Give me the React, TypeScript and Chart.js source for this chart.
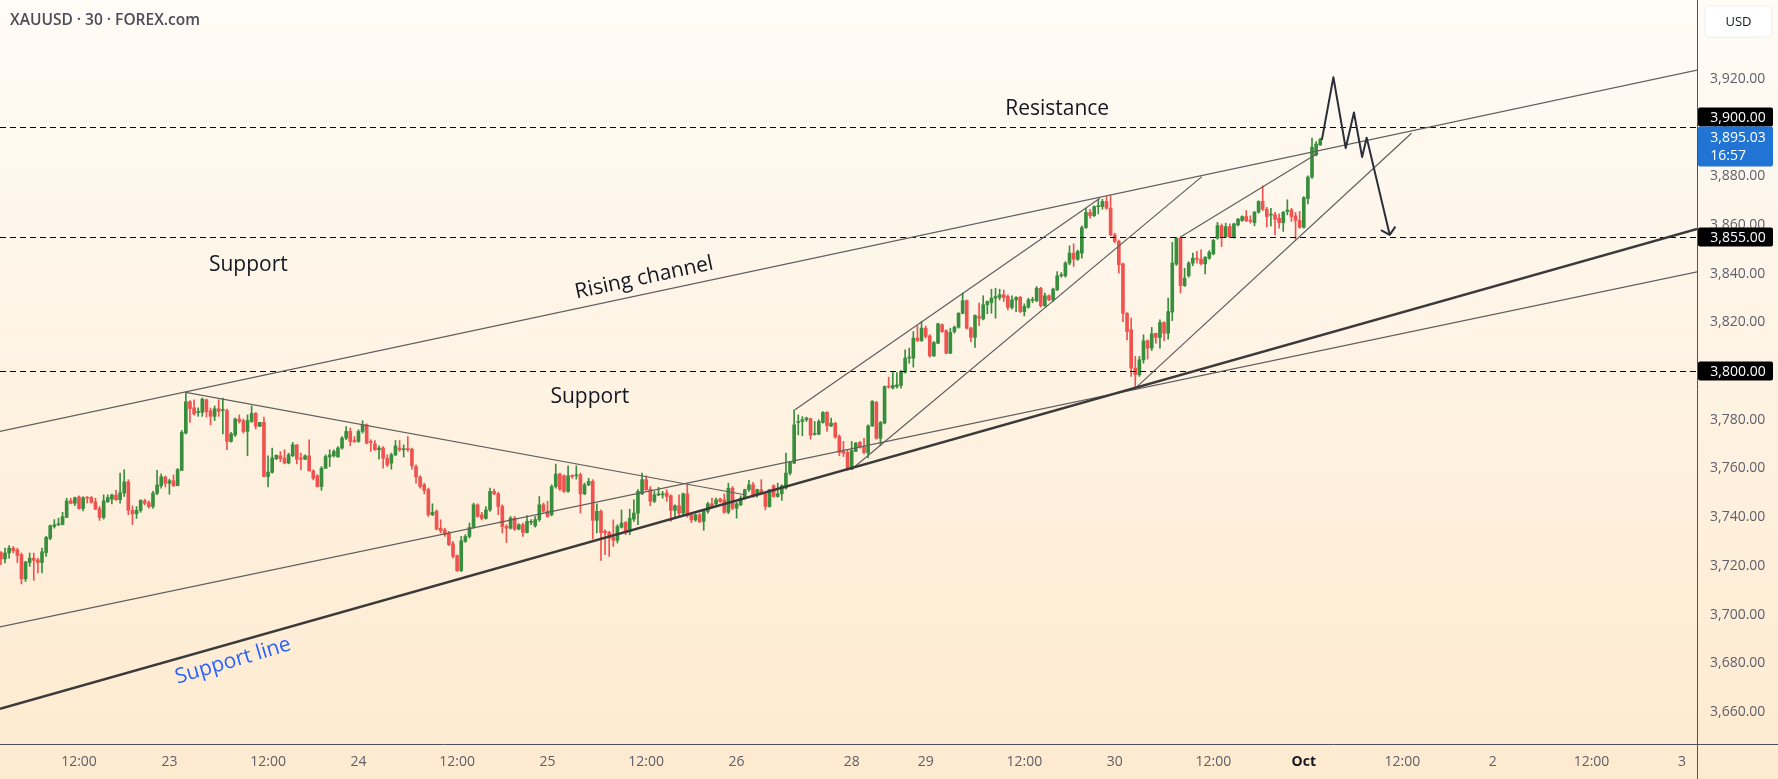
import React, { useEffect, useRef } from 'react';
import { Chart, registerables } from 'chart.js';

Chart.register(...registerables);

// bar index of the first candle (index 0 = Sep 22, 12:00, 30-minute bars)
const FIRST_BAR = -19;

const openP: number[] = [
  3725.5, 3722.9, 3725.3, 3727.3, 3726.6, 3724.6, 3714.7, 3721.4, 3723.2, 3722.5,
  3721.4, 3725.5, 3731.3, 3736.2, 3736.9, 3737.0, 3739.9, 3746.7, 3745.7, 3748.3,
  3743.6, 3748.1, 3748.1, 3746.3, 3743.5, 3739.9, 3746.3, 3747.4, 3749.1, 3747.2,
  3749.9, 3754.5, 3742.8, 3741.4, 3742.8, 3746.7, 3745.9, 3744.4, 3749.8, 3752.9,
  3756.5, 3753.9, 3755.0, 3752.9, 3759.2, 3774.5, 3787.4, 3784.9, 3783.0, 3783.0,
  3788.2, 3783.7, 3781.4, 3784.5, 3783.8, 3783.8, 3771.1, 3773.8, 3780.3, 3779.6,
  3775.2, 3779.3, 3782.6, 3777.3, 3778.9, 3756.7, 3758.4, 3764.0, 3765.2, 3764.3,
  3762.2, 3765.2, 3769.7,
  3764.3, 3763.8, 3765.2, 3759.0, 3757.0, 3752.6, 3760.1,
  3764.7, 3765.2, 3764.7, 3768.4, 3772.5, 3775.2, 3771.5, 3771.1, 3775.2, 3777.9,
  3771.1, 3770.1, 3767.7, 3768.4, 3764.2, 3762.2, 3765.6, 3768.4, 3767.7, 3768.2,
  3767.9, 3760.8, 3756.5, 3753.3, 3751.3, 3741.0, 3742.4, 3735.5, 3734.8, 3733.5,
  3729.1, 3724.2, 3718.0, 3730.1, 3732.1, 3735.9, 3745.1, 3741.0, 3739.5, 3743.0,
  3750.6, 3749.6, 3744.4, 3736.2, 3735.5, 3739.6, 3735.1, 3736.9, 3733.7, 3737.9,
  3736.5, 3739.0, 3745.1, 3742.5, 3741.0, 3752.6, 3757.7, 3757.0, 3750.6, 3757.0, 3757.0,
  3757.4, 3749.6, 3753.3, 3754.7, 3738.7, 3742.4, 3734.2, 3733.7, 3731.8,
  3730.5, 3735.9, 3737.8, 3734.2, 3739.2, 3741.7, 3749.6, 3755.4, 3751.5, 3746.5,
  3749.1, 3749.2, 3749.9, 3748.8, 3742.8, 3744.7, 3741.7, 3749.6, 3741.0, 3738.9,
  3741.0, 3738.3, 3742.4, 3745.5, 3745.5, 3747.4, 3747.1, 3742.0, 3751.9, 3743.7,
  3745.1, 3747.8, 3751.3, 3753.3, 3749.2, 3751.3, 3749.6, 3744.4, 3752.9, 3748.5,
  3749.6, 3752.0, 3758.1,
  3762.2, 3778.9, 3779.3, 3780.0, 3780.4, 3774.0, 3774.1,
  3778.9, 3783.0, 3777.5, 3778.6, 3773.1, 3767.0, 3766.6, 3759.7, 3767.0, 3770.7,
  3768.8, 3766.3, 3777.5, 3787.2, 3772.4, 3778.6, 3793.6, 3793.0, 3793.6, 3794.1,
  3799.5, 3805.3, 3805.3, 3813.5, 3812.5, 3817.6, 3814.4, 3806.2, 3811.4, 3819.0,
  3816.6, 3807.3, 3816.2, 3818.0, 3823.7, 3828.9,
  3817.6, 3813.8, 3822.4, 3821.4,
  3827.2, 3828.1, 3829.9, 3830.2, 3831.3, 3830.6, 3826.1, 3829.2, 3830.3, 3824.4,
  3826.2, 3829.0, 3828.8, 3833.9, 3826.8, 3830.9, 3829.2, 3833.3, 3839.1, 3839.1,
  3844.3, 3848.4, 3845.9, 3848.4, 3858.9, 3865.1, 3863.8, 3867.5, 3867.5,
  3869.6,
  3866.8, 3855.9, 3853.2, 3844.0, 3823.7, 3816.9, 3801.2, 3798.5, 3804.6, 3812.4,
  3809.4, 3815.5, 3813.8, 3819.9, 3815.5, 3824.2, 3843.9, 3854.5, 3835.1, 3839.1,
  3844.3, 3846.3, 3845.9, 3844.0, 3846.3, 3848.1, 3854.5, 3859.6, 3855.2, 3859.3,
  3854.9, 3860.0, 3861.8, 3863.4, 3861.8, 3860.9, 3865.2, 3869.6, 3866.4, 3864.0,
  3864.2, 3862.7, 3860.9, 3865.5, 3866.1, 3863.7, 3861.8, 3859.0, 3870.8, 3879.6,
  3888.7, 3892.8,
];

const highP: number[] = [
  3725.9, 3727.3, 3728.3, 3728.0, 3727.3, 3725.3, 3721.9, 3725.3, 3725.3, 3723.2,
  3727.3, 3732.1, 3736.8, 3739.0, 3739.6, 3742.0, 3747.8, 3747.8, 3748.3, 3748.8,
  3748.5, 3748.5, 3748.5, 3747.8, 3744.4, 3749.2, 3749.2, 3749.5, 3751.0, 3758.1,
  3759.5, 3755.4, 3744.7, 3744.4, 3747.2, 3747.4, 3746.7, 3750.6, 3759.2, 3757.8,
  3756.9, 3755.6, 3757.4, 3760.0, 3775.6, 3791.2, 3787.9, 3788.2, 3784.9, 3788.9,
  3788.5, 3784.8, 3785.7, 3788.2, 3788.9, 3784.4, 3774.8, 3780.7, 3782.0, 3780.3,
  3782.0, 3785.7, 3783.0, 3778.9, 3781.1, 3765.2, 3768.4, 3765.6, 3766.9, 3767.7,
  3766.3, 3770.7, 3769.7,
  3766.3, 3765.6, 3771.8, 3759.5, 3757.4, 3760.8, 3765.6,
  3767.7, 3767.7, 3769.0, 3773.1, 3777.2, 3776.6, 3773.1, 3775.9, 3779.6, 3778.3,
  3771.8, 3771.5, 3769.3, 3769.0, 3765.6, 3766.3, 3771.5, 3771.5, 3769.7, 3773.1,
  3768.4, 3761.5, 3757.0, 3754.0, 3751.9, 3745.5, 3743.0, 3738.9, 3735.5, 3734.2,
  3730.1, 3724.6, 3732.1, 3732.8, 3737.6, 3745.8, 3745.5, 3742.0, 3744.4, 3751.9,
  3751.5, 3750.2, 3745.1, 3736.9, 3740.3, 3740.3, 3737.3, 3737.6, 3740.7, 3739.0,
  3740.3, 3748.5, 3745.8, 3746.5, 3753.3, 3761.8, 3758.1, 3757.4, 3761.1, 3757.4, 3761.1,
  3758.1, 3754.0, 3756.0, 3755.4, 3745.5, 3743.0, 3734.8, 3734.2, 3738.9,
  3736.9, 3743.0, 3738.3, 3743.3, 3747.1, 3751.3, 3758.1, 3757.0, 3752.6, 3750.6,
  3752.3, 3750.6, 3751.3, 3749.2, 3745.1, 3749.2, 3749.9, 3753.3, 3741.7, 3741.4,
  3741.7, 3743.0, 3746.1, 3747.8, 3747.8, 3747.8, 3749.6, 3754.0, 3752.6, 3746.1,
  3748.8, 3751.5, 3755.1, 3754.3, 3751.5, 3755.4, 3749.9, 3751.5, 3753.3, 3754.0,
  3753.3, 3766.3, 3762.9,
  3784.1, 3782.0, 3781.3, 3781.1, 3780.7, 3779.3, 3780.0,
  3783.4, 3783.4, 3780.7, 3778.9, 3773.8, 3771.1, 3767.7, 3771.1, 3770.7, 3771.1,
  3772.4, 3777.9, 3787.9, 3787.5, 3779.3, 3793.9, 3797.5, 3799.4, 3799.4, 3800.2,
  3808.7, 3809.4, 3816.2, 3818.5, 3820.3, 3818.5, 3814.9, 3812.1, 3819.6, 3819.4,
  3816.9, 3817.6, 3818.5, 3824.0, 3832.0, 3829.2,
  3818.0, 3823.1, 3827.9, 3830.9,
  3828.8, 3833.6, 3834.0, 3833.6, 3833.3, 3831.3, 3830.9, 3830.6, 3830.6, 3827.6,
  3829.9, 3830.3, 3834.7, 3834.4, 3832.0, 3831.3, 3834.0, 3840.8, 3840.4, 3844.9,
  3851.4, 3852.2, 3849.7, 3859.6, 3866.8, 3866.4, 3867.8, 3870.5, 3870.5,
  3871.6,
  3871.9, 3856.6, 3853.8, 3844.3, 3824.0, 3821.7, 3806.0, 3806.0, 3814.9, 3812.8,
  3817.9, 3815.5, 3821.0, 3820.3, 3829.9, 3852.8, 3854.9, 3854.9, 3842.2, 3844.9,
  3848.4, 3849.1, 3849.7, 3847.0, 3849.5, 3854.1, 3861.0, 3860.4, 3860.7, 3860.4,
  3860.7, 3862.7, 3863.7, 3865.9, 3863.7, 3865.5, 3869.9, 3876.0, 3867.2, 3866.8,
  3865.1, 3864.5, 3865.5, 3870.3, 3866.8, 3865.1, 3865.5, 3871.6, 3880.1, 3895.6,
  3894.2, 3895.6,
];

const lowP: number[] = [
  3720.5, 3721.2, 3723.2, 3725.3, 3721.4, 3712.6, 3713.6, 3719.8, 3714.1, 3717.1,
  3717.1, 3723.9, 3730.7, 3735.5, 3736.5, 3736.8, 3739.9, 3745.5, 3744.7, 3743.3,
  3742.6, 3745.8, 3745.8, 3743.1, 3738.7, 3739.2, 3746.1, 3745.4, 3746.9, 3745.8,
  3748.5, 3741.0, 3737.0, 3739.5, 3742.0, 3745.1, 3743.7, 3743.6, 3749.2, 3751.9,
  3752.4, 3749.4, 3752.6, 3752.9, 3759.2, 3774.2, 3778.9, 3781.9, 3781.4, 3781.4,
  3781.1, 3777.9, 3779.7, 3781.4, 3774.2, 3767.7, 3770.8, 3773.1, 3778.6, 3774.5,
  3765.2, 3778.9, 3776.2, 3777.3, 3756.5, 3752.4, 3758.1, 3763.6, 3762.8, 3761.9,
  3761.9, 3764.9, 3761.9,
  3759.5, 3763.6, 3759.0, 3755.3, 3752.3, 3751.0, 3760.0,
  3760.8, 3764.7, 3764.7, 3767.9, 3771.8, 3769.3, 3770.7, 3770.7, 3774.5, 3770.1,
  3767.0, 3767.4, 3763.8, 3760.1, 3760.8, 3759.7, 3765.2, 3767.0, 3764.7, 3767.0,
  3759.7, 3754.0, 3751.9, 3749.6, 3740.3, 3740.6, 3734.8, 3733.5, 3732.1, 3728.3,
  3723.2, 3717.7, 3717.7, 3729.6, 3731.4, 3735.5, 3740.0, 3738.9, 3739.2, 3742.4,
  3749.2, 3741.0, 3733.5, 3729.6, 3735.1, 3734.6, 3734.8, 3732.1, 3733.5, 3736.9,
  3735.9, 3738.3, 3742.0, 3740.0, 3740.5, 3751.9, 3751.0, 3750.2, 3750.2, 3756.0, 3755.6,
  3741.7, 3749.2, 3752.9, 3731.0, 3733.5, 3722.3, 3724.6, 3723.9, 3728.0,
  3729.4, 3735.5, 3732.8, 3732.8, 3738.3, 3736.9, 3749.2, 3751.0, 3744.7, 3746.0,
  3748.8, 3747.8, 3746.5, 3738.3, 3740.0, 3740.0, 3740.6, 3740.0, 3737.8, 3738.3,
  3737.8, 3734.6, 3741.7, 3744.1, 3745.1, 3746.0, 3741.7, 3741.4, 3743.0, 3739.6,
  3744.7, 3747.4, 3750.6, 3748.2, 3748.2, 3749.2, 3743.0, 3744.1, 3748.2, 3748.2,
  3746.9, 3751.5, 3757.4,
  3762.0, 3773.8, 3773.4, 3779.3, 3772.0, 3773.7, 3773.8,
  3778.6, 3775.2, 3777.2, 3772.4, 3765.2, 3764.9, 3759.2, 3759.5, 3767.0, 3768.3,
  3766.0, 3764.3, 3777.2, 3772.0, 3769.3, 3778.3, 3793.0, 3792.6, 3793.0, 3793.0,
  3799.1, 3803.2, 3801.6, 3812.1, 3812.1, 3813.5, 3805.7, 3806.0, 3811.2, 3815.8,
  3807.1, 3807.1, 3815.5, 3817.6, 3823.5, 3817.2,
  3812.1, 3809.7, 3818.6, 3821.0,
  3823.5, 3823.7, 3821.7, 3829.2, 3828.5, 3825.1, 3825.4, 3824.4, 3824.0, 3822.6,
  3825.8, 3828.1, 3828.5, 3826.2, 3826.5, 3828.9, 3828.5, 3833.1, 3838.5, 3838.5,
  3843.6, 3842.9, 3845.4, 3846.3, 3858.5, 3862.7, 3863.4, 3864.5, 3866.4,
  3866.4,
  3855.5, 3852.7, 3840.2, 3820.3, 3812.8, 3797.8, 3793.4, 3797.8, 3803.2, 3804.9,
  3808.4, 3811.4, 3809.4, 3812.5, 3813.1, 3820.7, 3843.3, 3832.0, 3834.7, 3838.5,
  3843.2, 3844.3, 3843.6, 3839.9, 3845.9, 3847.7, 3854.1, 3851.1, 3854.8, 3854.7,
  3854.5, 3859.6, 3861.4, 3861.4, 3860.7, 3859.6, 3864.8, 3865.9, 3859.1, 3859.6,
  3855.9, 3858.6, 3857.3, 3864.1, 3861.4, 3854.1, 3858.6, 3858.6, 3868.6, 3879.1,
  3888.3, 3892.6,
];

const closeP: number[] = [
  3722.9, 3725.3, 3727.3, 3726.2, 3724.3, 3714.7, 3721.6, 3723.2, 3722.3, 3721.4,
  3725.8, 3731.7, 3736.5, 3736.9, 3737.2, 3740.2, 3746.7, 3745.7, 3748.0, 3743.6,
  3748.0, 3747.8, 3746.1, 3743.3, 3739.9, 3746.7, 3748.1, 3749.1, 3747.2, 3750.0,
  3754.5, 3742.8, 3741.4, 3742.8, 3746.9, 3745.7, 3744.3, 3749.9, 3753.2, 3756.6,
  3753.9, 3755.0, 3752.9, 3759.5, 3774.8, 3787.4, 3784.6, 3782.4, 3783.3, 3788.5,
  3783.3, 3781.4, 3784.5, 3783.4, 3784.0, 3771.1, 3774.2, 3780.3, 3779.3, 3775.2,
  3779.7, 3782.6, 3777.3, 3778.9, 3756.7, 3758.5, 3764.3, 3765.4, 3764.0, 3762.2,
  3765.6, 3769.7, 3763.8,
  3763.8, 3765.2, 3759.0, 3756.0, 3752.6, 3760.1, 3764.9,
  3765.6, 3767.0, 3768.4, 3772.5, 3775.2, 3771.1, 3771.1, 3775.2, 3777.9, 3770.4,
  3770.7, 3767.7, 3768.4, 3764.2, 3761.5, 3765.6, 3769.3, 3767.7, 3767.9, 3767.7,
  3761.1, 3756.5, 3752.6, 3751.0, 3741.0, 3742.0, 3735.1, 3734.4, 3732.8, 3728.7,
  3723.9, 3718.0, 3730.3, 3732.1, 3735.8, 3745.1, 3740.3, 3739.5, 3743.0, 3750.6,
  3749.6, 3744.4, 3736.2, 3735.5, 3739.6, 3735.1, 3736.9, 3733.7, 3738.3, 3738.3,
  3739.0, 3745.1, 3742.5, 3740.3, 3752.6, 3757.7, 3751.5, 3750.6, 3757.0, 3756.7, 3757.3,
  3749.6, 3753.3, 3754.7, 3738.7, 3742.4, 3733.7, 3733.7, 3731.4, 3730.5,
  3736.2, 3737.6, 3733.7, 3739.6, 3741.7, 3750.6, 3755.4, 3751.3, 3746.5, 3749.2,
  3749.6, 3749.3, 3748.5, 3742.8, 3744.7, 3741.7, 3749.6, 3740.6, 3738.9, 3741.0,
  3738.1, 3742.4, 3745.5, 3744.4, 3747.1, 3746.5, 3742.0, 3751.9, 3743.7, 3745.5,
  3747.8, 3751.3, 3753.3, 3748.5, 3751.3, 3749.6, 3744.4, 3751.3, 3748.5, 3749.6,
  3752.9, 3758.1, 3762.5,
  3777.9, 3779.3, 3780.0, 3780.7, 3773.6, 3774.1, 3779.3,
  3783.0, 3777.5, 3778.6, 3772.9, 3766.6, 3766.3, 3759.5, 3767.4, 3770.4, 3768.8,
  3766.6, 3777.5, 3787.5, 3772.4, 3778.9, 3793.6, 3793.4, 3794.1, 3794.3, 3799.8,
  3805.3, 3805.6, 3813.5, 3812.5, 3817.6, 3814.2, 3806.2, 3811.7, 3819.4, 3816.2,
  3807.3, 3815.8, 3818.0, 3823.7, 3828.9, 3817.6,
  3813.8, 3822.8, 3821.7, 3827.2,
  3828.5, 3829.9, 3830.6, 3831.3, 3830.2, 3826.1, 3829.2, 3830.2, 3824.4, 3826.5,
  3829.2, 3829.2, 3834.0, 3826.8, 3830.9, 3829.2, 3833.6, 3839.1, 3839.5, 3844.3,
  3848.4, 3845.9, 3849.1, 3858.9, 3865.1, 3863.8, 3867.5, 3867.8, 3869.6,
  3866.8,
  3855.9, 3853.2, 3843.6, 3823.7, 3816.2, 3801.2, 3798.5, 3804.6, 3812.4, 3809.4,
  3815.3, 3813.8, 3819.9, 3815.5, 3824.4, 3844.3, 3854.5, 3835.1, 3838.1, 3844.3,
  3846.3, 3845.9, 3844.0, 3846.7, 3848.7, 3853.6, 3859.7, 3854.9, 3859.3, 3854.9,
  3860.4, 3862.3, 3863.4, 3861.6, 3861.5, 3865.2, 3869.6, 3866.4, 3863.4, 3864.2,
  3862.3, 3860.9, 3865.2, 3866.1, 3863.4, 3861.8, 3859.0, 3871.2, 3879.6, 3891.9,
  3893.2, 3895.03,
];

// time axis
const timeTickIdx = [0, 22, 46, 68, 92, 114, 138, 160, 188, 206, 230, 252, 276, 298, 322, 344, 368, 390];
const timeTickLabels = ['12:00', '23', '12:00', '24', '12:00', '25', '12:00', '26', '28', '29', '12:00', '30', '12:00', 'Oct', '12:00', '2', '12:00', '3'];

// price axis
const priceTicks = [3660, 3680, 3700, 3720, 3740, 3760, 3780, 3800, 3820, 3840, 3860, 3880, 3900, 3920];
const levelPrices = [3900, 3855, 3800];
const lastPrice = 3895.03;
const countdown = '16:57';

// drawings: [barIndex, price]
const channelTop = [[-19.22, 3775.2], [393.7, 3923.5]];
const channelBottom = [[-19.22, 3695.0], [393.7, 3840.7]];
const supportLine = [[-19.22, 3661.4], [393.7, 3858.3]];
const fallingLine = [[26.0, 3791.2], [162.0, 3749.2]];
const miniLines = [
  [[174.2, 3784.1], [248.4, 3870.9]],
  [[188.0, 3759.7], [273.2, 3879.8]],
  [[267.9, 3854.9], [301.5, 3889.5]],
  [[257.3, 3793.4], [324.2, 3897.6]],
];
const projection = [[302.4, 3894.9], [305.2, 3920.6], [308.2, 3891.5], [310.2, 3906.1], [312.2, 3887.8], [313.3, 3895.8], [318.9, 3855.9]];

const notes = [
  { text: 'Resistance', at: [238.0, 3907.6], angle: 0, color: '#131722' },
  { text: 'Support', at: [41.2, 3843.6], angle: 0, color: '#131722' },
  { text: 'Support', at: [124.3, 3789.2], angle: 0, color: '#131722' },
  { text: 'Rising channel', at: [137.5, 3838.2], angle: -12, color: '#131722' },
  { text: 'Support line', at: [37.5, 3681.0], angle: -16.5, color: '#2962ff' },
];

const X_MIN = -19.22;
const X_MAX = 393.67;
const Y_MIN = 3646.9;
const Y_MAX = 3952.3;

const GREEN = '#388e3c';
const RED = '#ef5350';
const FONT = '"Open Sans", "DejaVu Sans", sans-serif';
const AXIS_TEXT = '#5d606b';

const fmtPrice = (v: number) =>
  v.toLocaleString('en-US', { minimumFractionDigits: 2, maximumFractionDigits: 2 });

const tvPlugin = {
  id: 'tvPlugin',
  beforeDraw(chart: any) {
    const { ctx, width, height } = chart;
    const g = ctx.createLinearGradient(0, 0, 0, height);
    g.addColorStop(0, '#fffbf6');
    g.addColorStop(1, '#feeacf');
    ctx.save();
    ctx.fillStyle = g;
    ctx.fillRect(0, 0, width, height);
    ctx.restore();
  },
  afterDatasetsDraw(chart: any) {
    const { ctx, chartArea: a, scales } = chart;
    const X = (v: number) => scales.x.getPixelForValue(v);
    const Y = (v: number) => scales.y.getPixelForValue(v);
    ctx.save();
    ctx.beginPath();
    ctx.rect(a.left, a.top, a.right - a.left, a.bottom - a.top);
    ctx.clip();

    // horizontal dashed levels
    ctx.strokeStyle = '#000000';
    ctx.lineWidth = 1;
    ctx.setLineDash([6, 4]);
    levelPrices.forEach((p) => {
      const yy = Math.round(Y(p)) + 0.5;
      ctx.beginPath();
      ctx.moveTo(a.left, yy);
      ctx.lineTo(a.right, yy);
      ctx.stroke();
    });
    ctx.setLineDash([]);

    const seg = (pts: number[][], color: string, w: number) => {
      ctx.strokeStyle = color;
      ctx.lineWidth = w;
      ctx.lineJoin = 'round';
      ctx.beginPath();
      pts.forEach((pt, k) => {
        const xx = X(pt[0]);
        const yy = Y(pt[1]);
        if (k === 0) ctx.moveTo(xx, yy);
        else ctx.lineTo(xx, yy);
      });
      ctx.stroke();
    };

    seg(channelTop, '#5f5f5f', 1.2);
    seg(channelBottom, '#5f5f5f', 1.2);
    seg(fallingLine, '#5f5f5f', 1.2);
    miniLines.forEach((l) => seg(l, '#5f5f5f', 1.2));
    seg(supportLine, '#3a3a3a', 2.5);

    // projection zigzag with arrow head
    seg(projection, '#2a2e39', 2);
    const p1 = projection[projection.length - 2];
    const p2 = projection[projection.length - 1];
    const x1 = X(p1[0]), y1 = Y(p1[1]), x2 = X(p2[0]), y2 = Y(p2[1]);
    const ang = Math.atan2(y1 - y2, x1 - x2);
    const L = 10;
    const spread = (48 * Math.PI) / 180;
    ctx.beginPath();
    ctx.moveTo(x2 + L * Math.cos(ang - spread), y2 + L * Math.sin(ang - spread));
    ctx.lineTo(x2, y2);
    ctx.lineTo(x2 + L * Math.cos(ang + spread), y2 + L * Math.sin(ang + spread));
    ctx.stroke();

    // text notes
    ctx.textAlign = 'center';
    ctx.textBaseline = 'middle';
    notes.forEach((n) => {
      ctx.save();
      ctx.translate(X(n.at[0]), Y(n.at[1]));
      ctx.rotate((n.angle * Math.PI) / 180);
      ctx.font = `21px ${FONT}`;
      ctx.fillStyle = n.color;
      ctx.fillText(n.text, 0, 0);
      ctx.restore();
    });
    ctx.restore();
  },
  afterDraw(chart: any) {
    const { ctx, width, height, chartArea: a, scales } = chart;
    const Y = (v: number) => scales.y.getPixelForValue(v);
    ctx.save();
    // axis borders
    ctx.strokeStyle = '#50535e';
    ctx.lineWidth = 1;
    ctx.beginPath();
    ctx.moveTo(0, Math.round(a.bottom) + 0.5);
    ctx.lineTo(width, Math.round(a.bottom) + 0.5);
    ctx.moveTo(Math.round(a.right) + 0.5, 0);
    ctx.lineTo(Math.round(a.right) + 0.5, height);
    ctx.stroke();

    const axL = Math.round(a.right) + 1;
    const cx = axL + (width - axL) / 2;
    const rr = (x: number, y: number, w: number, h: number, r: number) => {
      ctx.beginPath();
      ctx.moveTo(x + r, y);
      ctx.lineTo(x + w - r, y);
      ctx.quadraticCurveTo(x + w, y, x + w, y + r);
      ctx.lineTo(x + w, y + h - r);
      ctx.quadraticCurveTo(x + w, y + h, x + w - r, y + h);
      ctx.lineTo(x + r, y + h);
      ctx.quadraticCurveTo(x, y + h, x, y + h - r);
      ctx.lineTo(x, y + r);
      ctx.quadraticCurveTo(x, y, x + r, y);
      ctx.closePath();
    };

    ctx.textAlign = 'center';
    ctx.textBaseline = 'middle';
    ctx.font = `14px ${FONT}`;

    // level boxes
    levelPrices.forEach((p) => {
      let yc = Y(p);
      if (p === 3900) yc = Y(lastPrice) - 22.5;
      ctx.fillStyle = '#000000';
      rr(axL, yc - 9.5, 75, 19, 2);
      ctx.fill();
      ctx.fillStyle = '#ffffff';
      ctx.fillText(fmtPrice(p), cx, yc + 0.5);
    });

    // last price box
    const yl = Y(lastPrice);
    ctx.fillStyle = '#2174d4';
    rr(axL, yl - 13, 75, 40, 2);
    ctx.fill();
    ctx.fillStyle = '#ffffff';
    ctx.fillText(fmtPrice(lastPrice), cx, yl - 2);
    ctx.textAlign = 'left';
    const wPrice = ctx.measureText(fmtPrice(lastPrice)).width;
    ctx.fillText(countdown, cx - wPrice / 2, yl + 16);

    // USD button
    ctx.fillStyle = '#ffffff';
    rr(1705, 6, 67, 31, 5);
    ctx.fill();
    ctx.strokeStyle = '#eceef2';
    ctx.stroke();
    ctx.fillStyle = '#131722';
    ctx.textAlign = 'center';
    ctx.font = `13px ${FONT}`;
    ctx.fillText('USD', 1738.5, 22);

    // title
    ctx.textAlign = 'left';
    ctx.font = `600 15.5px ${FONT}`;
    ctx.fillStyle = '#4a4d57';
    ctx.fillText('XAUUSD · 30 · FOREX.com', 10, 21);
    ctx.restore();
  },
};

export default function App() {
  const ref = useRef<HTMLCanvasElement | null>(null);

  useEffect(() => {
    const canvas = ref.current;
    if (!canvas) return;
    const xs = closeP.map((_, k) => FIRST_BAR + k);
    const colors = closeP.map((c, k) => (c >= openP[k] ? GREEN : RED));

    const chart = new Chart(canvas, {
      type: 'bar',
      data: {
        datasets: [
          {
            label: 'body',
            data: xs.map((x, k) => ({ x, y: [openP[k], closeP[k]] })) as any,
            backgroundColor: colors,
            barThickness: 3,
            minBarLength: 1,
            grouped: false,
            borderWidth: 0,
            order: 0,
          } as any,
          {
            label: 'wick',
            data: xs.map((x, k) => ({ x, y: [lowP[k], highP[k]] })) as any,
            backgroundColor: colors,
            barThickness: 1,
            grouped: false,
            borderWidth: 0,
            order: 1,
          } as any,
        ],
      },
      options: {
        animation: false,
        responsive: false,
        devicePixelRatio: 1,
        layout: { padding: 0, autoPadding: false } as any,
        plugins: { legend: { display: false }, tooltip: { enabled: false } },
        events: [],
        scales: {
          x: {
            type: 'linear',
            min: X_MIN,
            max: X_MAX,
            offset: false,
            grid: { display: false, drawTicks: false },
            border: { display: false },
            afterBuildTicks: (s: any) => {
              s.ticks = timeTickIdx.map((v) => ({ value: v }));
            },
            afterFit: (s: any) => {
              s.height = 35;
              s.paddingLeft = 0;
              s.paddingRight = 0;
              s.paddingTop = 0;
              s.paddingBottom = 0;
            },
            ticks: {
              autoSkip: false,
              maxRotation: 0,
              padding: 10,
              callback: (v: any) => {
                const k = timeTickIdx.indexOf(Number(v));
                return k >= 0 ? timeTickLabels[k] : '';
              },
              font: (c: any) => {
                const k = c.tick ? timeTickIdx.indexOf(c.tick.value) : -1;
                const bold = k >= 0 && timeTickLabels[k] === 'Oct';
                return { family: FONT, size: 14, weight: bold ? 'bold' : 'normal' };
              },
              color: (c: any) => {
                const k = c.tick ? timeTickIdx.indexOf(c.tick.value) : -1;
                return k >= 0 && timeTickLabels[k] === 'Oct' ? '#131722' : AXIS_TEXT;
              },
            },
          } as any,
          y: {
            type: 'linear',
            position: 'right',
            min: Y_MIN,
            max: Y_MAX,
            grid: { display: false, drawTicks: false },
            border: { display: false },
            afterBuildTicks: (s: any) => {
              s.ticks = priceTicks.map((v) => ({ value: v }));
            },
            afterFit: (s: any) => {
              s.width = 81;
              s.paddingLeft = 0;
              s.paddingRight = 0;
              s.paddingTop = 0;
              s.paddingBottom = 0;
            },
            ticks: {
              autoSkip: false,
              crossAlign: 'center',
              padding: 13,
              callback: (v: any) => fmtPrice(Number(v)),
              font: { family: FONT, size: 14 },
              color: AXIS_TEXT,
            },
          } as any,
        },
      },
      plugins: [tvPlugin],
    });
    return () => chart.destroy();
  }, []);

  return (
    <div style={{ position: 'fixed', left: 0, top: 0, width: 1778, height: 779 }}>
      <canvas ref={ref} width={1778} height={779} style={{ display: 'block', width: 1778, height: 779 }} />
    </div>
  );
}
